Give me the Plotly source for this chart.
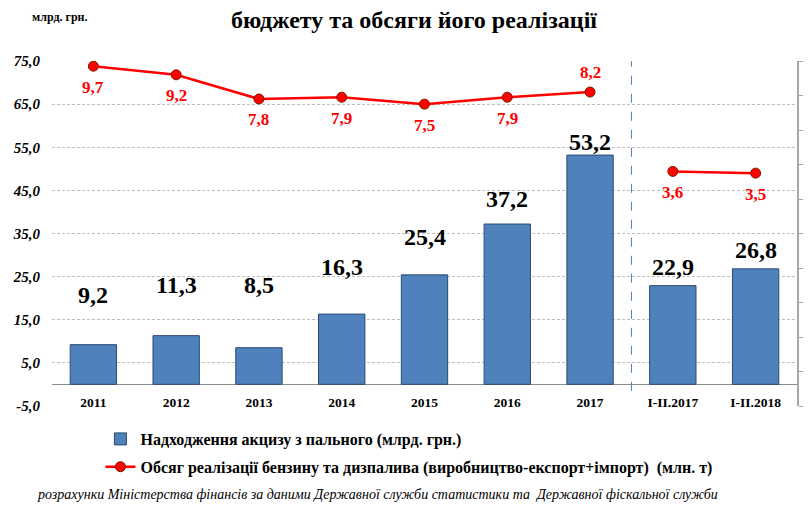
import plotly.graph_objects as go

categories = ["2011", "2012", "2013", "2014", "2015", "2016", "2017", "I-II.2017", "I-II.2018"]
excise_revenue = [9.2, 11.3, 8.5, 16.3, 25.4, 37.2, 53.2, 22.9, 26.8]
fuel_sales_years = ["2011", "2012", "2013", "2014", "2015", "2016", "2017"]
fuel_sales_year_values = [9.7, 9.2, 7.8, 7.9, 7.5, 7.9, 8.2]
fuel_sales_months = ["I-II.2017", "I-II.2018"]
fuel_sales_month_values = [3.6, 3.5]
y_tick_values = [-5, 5, 15, 25, 35, 45, 55, 65, 75]
y_tick_labels = [f"{v:.1f}".replace(".", ",") for v in y_tick_values]
# label placement (data units of the left axis) for the bar value labels
bar_label_y = [20.7, 23.1, 23.1, 27.2, 34.2, 43.0, 56.2, 27.2, 31.2]

SERIF = "Liberation Serif"
bar_name = "Надходження акцизу з пального (млрд. грн.)"
line_name = "Обсяг реалізації бензину та дизпалива (виробництво-експорт+імпорт)  (млн. т)"

# page has an 8px body margin: the figure is drawn 8px smaller and shifted
OFF = 8
W, H = 811 - OFF, 506 - OFF
L, T = 51.5 - OFF, 61 - OFF
PW, PH = 746, 345
R, B = W - L - PW, H - T - PH


def px_x(p):
    return (p - OFF - L) / PW


def px_y(p):
    return (T + PH - (p - OFF)) / PH


red_font = dict(family=SERIF, size=17, color="#FF0000", weight="bold")
marker_style = dict(color="#FF0000", size=10, line=dict(color="#7A1A00", width=1))

fig = go.Figure()
fig.add_trace(go.Bar(
    x=categories, y=excise_revenue, name=bar_name,
    marker=dict(color="#4F81BD", line=dict(color="#2C4A70", width=1)),
    legendgroup="bars",
))
fig.add_trace(go.Scatter(
    x=fuel_sales_years, y=fuel_sales_year_values, name=line_name, yaxis="y2",
    mode="lines+markers", legendgroup="line",
    line=dict(color="#FF0000", width=2.5), marker=marker_style,
))
fig.add_trace(go.Scatter(
    x=fuel_sales_months, y=fuel_sales_month_values, name=line_name, yaxis="y2",
    mode="lines+markers", legendgroup="line", showlegend=False,
    line=dict(color="#FF0000", width=2.5), marker=marker_style,
))

# bar value labels
for i, (v, ly) in enumerate(zip(excise_revenue, bar_label_y)):
    fig.add_annotation(
        x=i, y=ly, xref="x", yref="y", text=f"{v:.1f}".replace(".", ","),
        showarrow=False, font=dict(family=SERIF, size=24, color="black", weight="bold"),
    )

# line value labels (below the markers, last yearly one above)
line_pts = list(zip(fuel_sales_years, fuel_sales_year_values)) + list(zip(fuel_sales_months, fuel_sales_month_values))
for c, v in line_pts:
    shift = 20 if (c == fuel_sales_years[-1]) else -21
    fig.add_annotation(
        x=categories.index(c), y=v, xref="x", yref="y2", yshift=shift,
        text=f"{v:.1f}".replace(".", ","), showarrow=False, font=red_font,
    )

fig.add_shape(type="line", xref="x", yref="y", x0=6.5, x1=6.5, y0=-1.5, y1=75,
              line=dict(color="#4F81BD", width=1, dash="dash"))

fig.add_annotation(x=px_x(29), y=px_y(17), xref="paper", yref="paper", showarrow=False,
                   text="млрд. грн.", xanchor="left", yanchor="middle",
                   font=dict(family=SERIF, size=12, color="black", weight="bold"))
fig.add_annotation(xref="paper", yref="paper", x=px_x(34), y=px_y(494),
                   xanchor="left", yanchor="middle", showarrow=False,
                   text="розрахунки Міністерства фінансів за даними Державної служби статистики та  Державної фіскальної служби",
                   font=dict(family=SERIF, size=14, color="black", style="italic"))

fig.update_layout(
    width=W, height=H,
    margin=dict(l=L, r=R, t=T, b=B, autoexpand=False),
    paper_bgcolor="white", plot_bgcolor="white",
    separators=", ",
    bargap=0.44,
    title=dict(text="бюджету та обсяги його реалізації", x=(414 - OFF) / W, xanchor="center",
               y=1 - (20 - OFF) / H, yanchor="middle", xref="container", yref="container",
               font=dict(family=SERIF, size=24, color="black", weight="bold")),
    font=dict(family=SERIF, color="black"),
    showlegend=True,
    legend=dict(x=px_x(100), y=px_y(422), xanchor="left", yanchor="top",
                orientation="v", traceorder="grouped", tracegroupgap=4,
                font=dict(family=SERIF, size=16, color="black", weight="bold"),
                bgcolor="rgba(0,0,0,0)"),
    xaxis=dict(type="category", categoryorder="array", categoryarray=categories,
               range=[-0.5, 8.5], anchor="free", position=px_y(392),
               showgrid=False, showline=False, ticks="", zeroline=False,
               tickfont=dict(family=SERIF, size=13.5, color="black", weight="bold")),
    yaxis=dict(range=[-5.03, 75.03], tickmode="array", tickvals=y_tick_values, ticktext=y_tick_labels,
               showgrid=True, gridcolor="#BFBFBF", griddash="3px,2px", gridwidth=1,
               zeroline=True, zerolinecolor="#8C8C8C", zerolinewidth=1,
               showline=False, ticks="", ticklabelstandoff=11,
               tickfont=dict(family=SERIF, size=15, color="black", weight="bold", style="italic")),
    yaxis2=dict(range=[-10, 10], overlaying="y", side="right", dtick=2, tick0=0,
                showticklabels=False, showgrid=False, zeroline=False,
                showline=True, linecolor="#A6A6A6", linewidth=1.5,
                ticks="outside", ticklen=4, tickcolor="#A6A6A6"),
)

fig.write_html("out.html")
